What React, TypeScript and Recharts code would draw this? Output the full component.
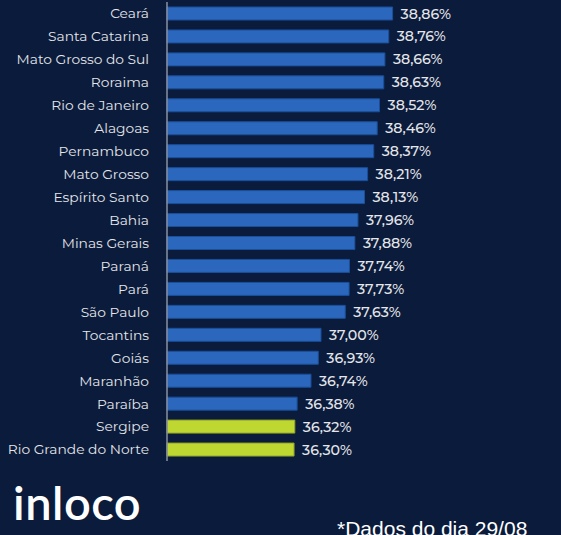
import React from 'react'
import { BarChart, Bar, XAxis, YAxis, LabelList, Cell } from 'recharts'

const states = [
  'Ceará',
  'Santa Catarina',
  'Mato Grosso do Sul',
  'Roraima',
  'Rio de Janeiro',
  'Alagoas',
  'Pernambuco',
  'Mato Grosso',
  'Espírito Santo',
  'Bahia',
  'Minas Gerais',
  'Paraná',
  'Pará',
  'São Paulo',
  'Tocantins',
  'Goiás',
  'Maranhão',
  'Paraíba',
  'Sergipe',
  'Rio Grande do Norte',
]

const values = [
  38.86, 38.76, 38.66, 38.63, 38.52, 38.46, 38.37, 38.21, 38.13, 37.96, 37.88,
  37.74, 37.73, 37.63, 37.0, 36.93, 36.74, 36.38, 36.32, 36.3,
]

const highlighted = ['Sergipe', 'Rio Grande do Norte']

const data = states.map((name, i) => ({ name, value: values[i] }))

const BG = '#0b1b3b'
const TEXT = '#e4e6ea'
const FONT = '"Montserrat", "Noto Sans", "Open Sans", sans-serif'

const fmt = (v: any) => v.toFixed(2).replace('.', ',') + '%'

export default function App() {
  return (
    <div
      style={{
        position: 'absolute',
        left: 0,
        top: 0,
        width: 561,
        height: 535,
        background: BG,
        overflow: 'hidden',
        fontFamily: FONT,
      }}
    >
      <BarChart
        width={561}
        height={461}
        data={data}
        layout="vertical"
        margin={{ top: 2, right: 86, left: 0, bottom: 0 }}
        barSize={13}
      >
        <XAxis type="number" domain={[33, 41]} hide />
        <YAxis
          type="category"
          dataKey="name"
          width={167}
          interval={0}
          tickLine={false}
          tickMargin={12}
          axisLine={{ stroke: '#8a92a3', strokeWidth: 1.5 }}
          tick={{ fill: TEXT, fontSize: 13.8, fontFamily: FONT }}
        />
        <Bar
          dataKey="value"
          isAnimationActive={false}
          stroke="#1a4f99"
          strokeWidth={1}
        >
          {data.map((d) => (
            <Cell
              key={d.name}
              fill={highlighted.includes(d.name) ? '#bfd731' : '#2a67bd'}
              stroke={highlighted.includes(d.name) ? '#8fa325' : '#1a4f99'}
            />
          ))}
          <LabelList
            dataKey="value"
            position="right"
            offset={8}
            formatter={fmt}
            style={{ fill: TEXT, fontSize: 14.2, fontWeight: 500, fontFamily: FONT }}
          />
        </Bar>
      </BarChart>
      <div
        style={{
          position: 'absolute',
          left: 13,
          top: 474,
          color: '#ffffff',
          fontSize: 47,
          fontWeight: 600,
          letterSpacing: 0.5,
          fontFamily: '"Lato", "Noto Sans", sans-serif',
        }}
      >
        inloco
      </div>
      <div
        style={{
          position: 'absolute',
          left: 337,
          top: 517,
          color: '#ffffff',
          fontSize: 21,
          fontFamily: '"Liberation Sans", Arial, sans-serif',
          whiteSpace: 'nowrap',
        }}
      >
        *Dados do dia 29/08
      </div>
    </div>
  )
}
